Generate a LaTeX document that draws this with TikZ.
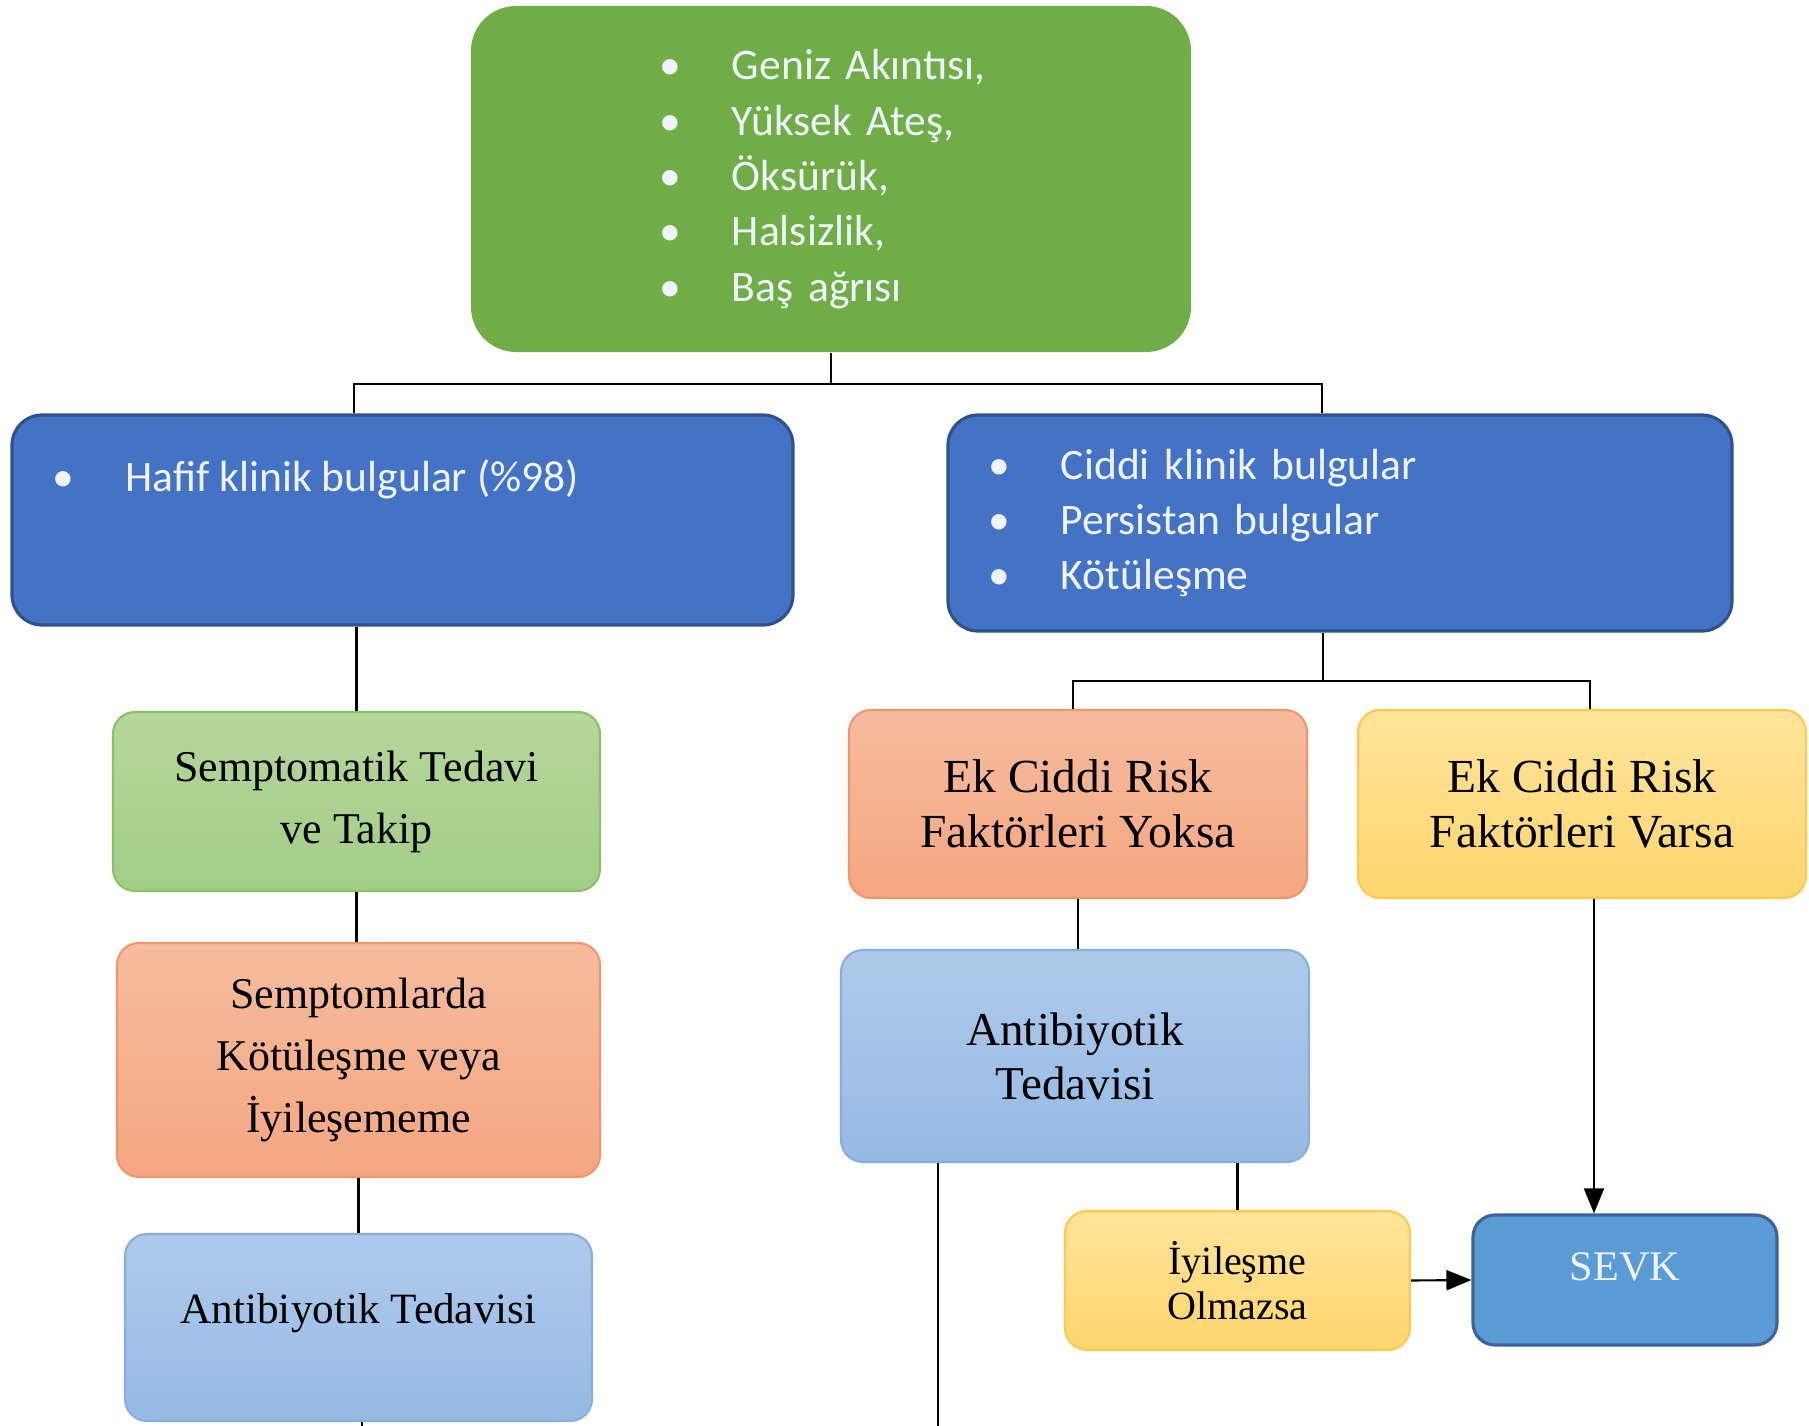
\documentclass[tikz,border=0pt]{standalone}
\usepackage{fontspec}
\setmainfont{Liberation Serif}
\newfontfamily\listfont{Carlito}
\usetikzlibrary{arrows.meta}

\newcommand{\bul}{\makebox[7.3mm][l]{•}}

\begin{document}
\begin{tikzpicture}[
        box/.style={rounded corners=0.22cm, line width=0.6pt, align=center, inner sep=0pt},
        listbox/.style={rounded corners=0.3cm, line width=0.9pt, draw=blueline, fill=boxblue, inner sep=0pt},
        listtext/.style={font=\listfont\fontsize{12.4}{15.75}\selectfont, text=listwhite, align=left},
        greenbox/.style={box, top color=lgtop, bottom color=lgbot, draw=lgline},
        salmonbox/.style={box, top color=satop, bottom color=sabot, draw=saline},
        lbluebox/.style={box, top color=lbtop, bottom color=lbbot, draw=lbline},
        yellowbox/.style={box, top color=yetop, bottom color=yebot, draw=yeline},
        link/.style={draw=black, line width=0.6pt},
        arrow/.style={link, -{Triangle[length=0.25cm, width=0.2cm]}}
    ]
        % Define colors
        \definecolor{topgreen}{RGB}{112, 173, 71}
        \definecolor{boxblue}{RGB}{68, 114, 196}
        \definecolor{blueline}{RGB}{47, 82, 143}
        \definecolor{listwhite}{RGB}{238, 244, 250}
        \definecolor{lgtop}{RGB}{180, 215, 155}
        \definecolor{lgbot}{RGB}{163, 205, 135}
        \definecolor{lgline}{RGB}{140, 192, 104}
        \definecolor{satop}{RGB}{246, 188, 158}
        \definecolor{sabot}{RGB}{244, 166, 128}
        \definecolor{saline}{RGB}{240, 150, 110}
        \definecolor{lbtop}{RGB}{174, 202, 235}
        \definecolor{lbbot}{RGB}{150, 186, 228}
        \definecolor{lbline}{RGB}{138, 174, 220}
        \definecolor{yetop}{RGB}{255, 228, 155}
        \definecolor{yebot}{RGB}{255, 214, 110}
        \definecolor{yeline}{RGB}{255, 200, 80}
        \definecolor{sevkblue}{RGB}{91, 155, 213}
        \definecolor{sevkline}{RGB}{60, 100, 150}

        \useasboundingbox (0,0) rectangle (18.09,-14.26);

        % --- TOP (symptoms) ---
        \node[rounded corners=0.45cm, fill=topgreen, inner sep=0pt, inner xsep=1.88cm,
              minimum width=7.2cm, minimum height=3.46cm, text width=3.44cm, listtext] (top) at (8.31,-1.79)
            {\bul Geniz Akıntısı,\\ \bul Yüksek Ateş,\\ \bul Öksürük,\\ \bul Halsizlik,\\ \bul Baş ağrısı};

        % --- ROW 1 (clinical findings) ---
        \node[listbox, minimum width=7.81cm, minimum height=2.10cm] (hafif) at (4.025,-5.20) {};
        \node[listtext, inner sep=0pt, anchor=base west] (hafiftxt) at (0.52,-4.91)
            {\bul Hafif klinik bulgular (\%98)};
        \node[listbox, listtext, inner xsep=0.40cm, minimum width=7.84cm, minimum height=2.16cm,
              text width=7.04cm] (ciddi) at (13.40,-5.23)
            {\bul Ciddi klinik bulgular\\ \bul Persistan bulgular\\ \bul Kötüleşme};

        % --- LEFT COLUMN ---
        \node[greenbox, minimum width=4.87cm, minimum height=1.79cm, font=\fontsize{12.5}{17.6}\selectfont]
            (semp) at (3.565,-8.015) {Semptomatik Tedavi\\ ve Takip};
        \node[salmonbox, minimum width=4.83cm, minimum height=2.34cm, font=\fontsize{12.5}{17.6}\selectfont]
            (kotu) at (3.585,-10.60) {Semptomlarda\\ Kötüleşme veya\\ İyileşememe};
        \node[lbluebox, minimum width=4.67cm, minimum height=1.87cm, text depth=0.38cm,
              font=\fontsize{12.3}{15}\selectfont] (antisol) at (3.585,-13.275) {Antibiyotik Tedavisi};

        % --- RIGHT COLUMN ---
        \node[salmonbox, minimum width=4.58cm, minimum height=1.88cm, font=\fontsize{13.5}{15.7}\selectfont]
            (yoksa) at (10.78,-8.04) {Ek Ciddi Risk\\ Faktörleri Yoksa};
        \node[yellowbox, minimum width=4.48cm, minimum height=1.88cm, font=\fontsize{13.5}{15.7}\selectfont]
            (varsa) at (15.82,-8.04) {Ek Ciddi Risk\\ Faktörleri Varsa};
        \node[lbluebox, minimum width=4.68cm, minimum height=2.12cm, font=\fontsize{13.4}{15.4}\selectfont]
            (antisag) at (10.75,-10.56) {Antibiyotik\\ Tedavisi};
        \node[yellowbox, minimum width=3.45cm, minimum height=1.39cm, font=\fontsize{11.4}{13}\selectfont]
            (iyi) at (12.375,-12.805) {İyileşme\\ Olmazsa};
        \node[box, fill=sevkblue, draw=sevkline, line width=0.9pt, text=listwhite, minimum width=3.04cm,
              minimum height=1.30cm, text depth=0.26cm, font=\fontsize{12}{14}\selectfont]
            (sevk) at (16.25,-12.80) {SEVK};

        % Connectors
        \coordinate (busL) at (3.54,-3.84);
        \coordinate (busR) at (13.22,-3.84);
        \draw[link] (top.south) -- (top.south |- busL);
        \draw[link] (hafif.north -| busL) -- (busL) -- (busR) -- (ciddi.north -| busR);

        \draw[link] (semp.north |- hafif.south) -- (semp.north);
        \draw[link] (semp.south) -- (semp.south |- kotu.north);
        \draw[link] (kotu.south) -- (kotu.south |- antisol.north);
        \coordinate (endL) at (3.62,-14.26);
        \draw[link] (endL |- antisol.south) -- (endL);

        \coordinate (busM) at (13.23,-6.81);
        \coordinate (busA) at (10.73,-6.81);
        \coordinate (busB) at (15.90,-6.81);
        \draw[link] (ciddi.south -| busM) -- (busM);
        \draw[link] (yoksa.north -| busA) -- (busA) -- (busB) -- (varsa.north -| busB);
        \draw[link] (yoksa.south) -- (yoksa.south |- antisag.north);
        \coordinate (drop) at ([xshift=0.12cm]varsa.south);
        \draw[arrow] (drop) -- (drop |- sevk.north);
        \draw[link] (iyi.north |- antisag.south) -- (iyi.north);
        \coordinate (endR) at (9.38,-14.26);
        \draw[link] (endR |- antisag.south) -- (endR);
        \draw[arrow] (iyi.east) -- (sevk.west);

    \end{tikzpicture}
\end{document}
